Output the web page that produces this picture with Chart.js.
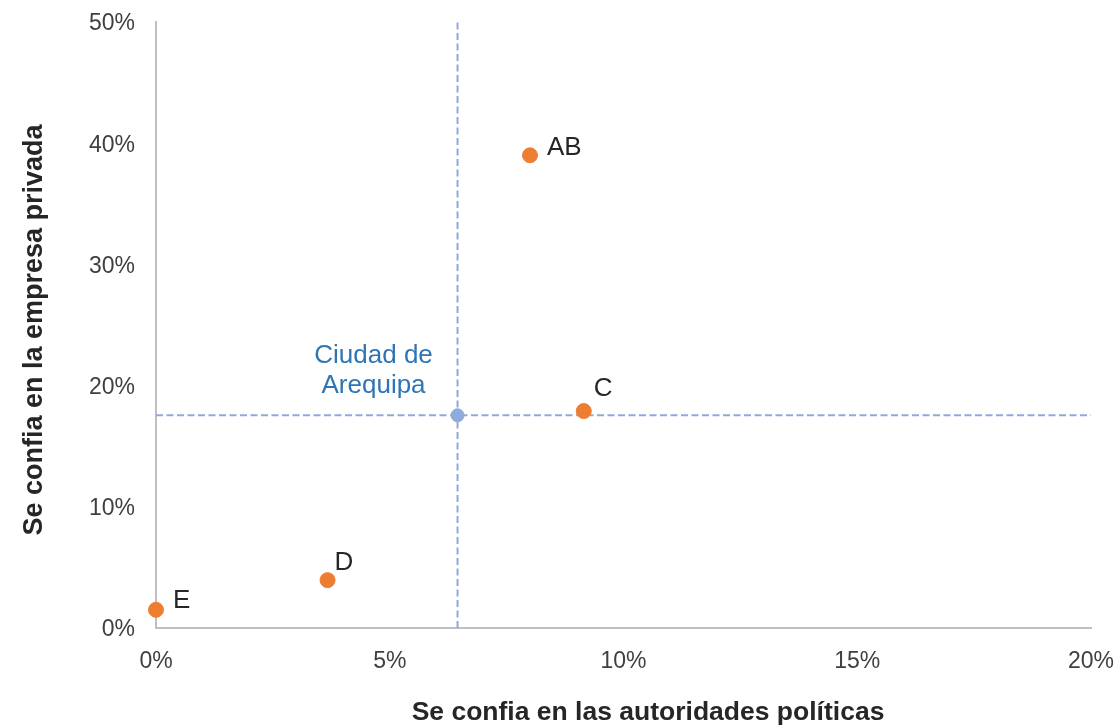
<!DOCTYPE html>
<html>
<head>
<meta charset="utf-8">
<script src="https://cdn.jsdelivr.net/npm/chart.js@4.4.1/dist/chart.umd.min.js"></script>
<style>
  html, body { margin: 0; padding: 0; background: #ffffff; }
  #wrap { width: 1116px; height: 725px; position: relative; }
</style>
</head>
<body>
<div id="wrap"><canvas id="chart"></canvas></div>
<script>
// ======================================
// Data
// ======================================

const segments = ["AB", "C", "D", "E"];

const trustAuthorities = [8.0, 9.15, 3.67, 0.0];

const trustPrivate = [39.0, 17.9, 3.95, 1.5];

const cityName = ["Ciudad de", "Arequipa"];

const cityAuthorities = 6.45;

const cityPrivate = 17.55;

const xTicks = [0, 5, 10, 15, 20];

const yTicks = [0, 10, 20, 30, 40, 50];

const xTitle = "Se confia en las autoridades políticas";

const yTitle = "Se confia en la empresa privada";

// ======================================
// Label placement (pixels from point)
// ======================================

const labelOffsets = {
    AB: [17, -7],
    C: [10, -22],
    D: [7, -17],
    E: [17, -9]
};

const FONT = "'Liberation Sans', Arial, sans-serif";

// ======================================
// Plugins
// ======================================

const labelsPlugin = {
    id: "pointLabels",
    afterDatasetsDraw(chart) {
        const ctx = chart.ctx;
        const xs = chart.scales.x;
        const ys = chart.scales.y;

        ctx.save();
        ctx.font = "26px " + FONT;
        ctx.fillStyle = "#262626";
        ctx.textAlign = "left";
        ctx.textBaseline = "middle";

        segments.forEach((name, i) => {
            const px = xs.getPixelForValue(trustAuthorities[i]);
            const py = ys.getPixelForValue(trustPrivate[i]);
            const off = labelOffsets[name];
            ctx.fillText(name, px + off[0], py + off[1]);
        });

        // city label
        const cx = xs.getPixelForValue(cityAuthorities);
        const cy = ys.getPixelForValue(cityPrivate);
        ctx.fillStyle = "#2e75b6";
        ctx.textAlign = "center";
        ctx.fillText(cityName[0], cx - 84, cy - 59);
        ctx.fillText(cityName[1], cx - 84, cy - 29);

        // axis titles
        ctx.fillStyle = "#262626";
        ctx.font = "bold 26.5px " + FONT;
        ctx.fillText(xTitle, 648, 713);

        ctx.font = "bold 27px " + FONT;
        ctx.translate(35, 330);
        ctx.rotate(-Math.PI / 2);
        ctx.fillText(yTitle, 0, 0);
        ctx.restore();
    }
};

// ======================================
// Chart
// ======================================

const pointData = trustAuthorities.map((x, i) => ({ x: x, y: trustPrivate[i] }));

new Chart(document.getElementById("chart"), {
    type: "scatter",
    data: {
        datasets: [
            {
                label: "Ciudad vertical",
                data: [{ x: cityAuthorities, y: 0 }, { x: cityAuthorities, y: 50 }],
                showLine: true,
                borderColor: "#8eaadb",
                borderWidth: 2,
                borderDash: [7, 3.5],
                pointRadius: 0,
                order: 3
            },
            {
                label: "Ciudad horizontal",
                data: [{ x: 0, y: cityPrivate }, { x: 20, y: cityPrivate }],
                showLine: true,
                borderColor: "#8eaadb",
                borderWidth: 2,
                borderDash: [7, 3.5],
                pointRadius: 0,
                order: 3
            },
            {
                label: "Ciudad de Arequipa",
                data: [{ x: cityAuthorities, y: cityPrivate }],
                backgroundColor: "#8faadc",
                borderColor: "#8faadc",
                pointRadius: 6.5,
                order: 2
            },
            {
                label: "Segmentos",
                data: pointData,
                backgroundColor: "#ed7d31",
                borderColor: "#ed7d31",
                pointRadius: 7.5,
                clip: false,
                order: 1
            }
        ]
    },
    options: {
        responsive: true,
        maintainAspectRatio: false,
        animation: false,
        events: [],
        layout: { padding: { left: 0, right: 25, top: 22, bottom: 0 } },
        plugins: {
            legend: { display: false },
            tooltip: { enabled: false }
        },
        scales: {
            x: {
                type: "linear",
                min: 0,
                max: 20,
                afterBuildTicks(scale) {
                    scale.ticks = xTicks.map(v => ({ value: v }));
                },
                afterFit(scale) {
                    scale.height = 97;
                    scale.paddingLeft = 0;
                    scale.paddingRight = 0;
                },
                grid: { display: false, drawTicks: false },
                border: { color: "#bfbfbf", width: 2 },
                ticks: {
                    padding: 20,
                    color: "#404040",
                    font: { family: FONT, size: 23 },
                    callback: v => v + "%"
                }
            },
            y: {
                type: "linear",
                min: 0,
                max: 50,
                afterBuildTicks(scale) {
                    scale.ticks = yTicks.map(v => ({ value: v }));
                },
                afterFit(scale) {
                    scale.width = 156;
                    scale.paddingTop = 0;
                    scale.paddingBottom = 0;
                },
                grid: { display: false, drawTicks: false },
                border: { color: "#bfbfbf", width: 2 },
                ticks: {
                    padding: 21,
                    labelOffset: 2,
                    color: "#404040",
                    font: { family: FONT, size: 23 },
                    callback: v => v + "%"
                }
            }
        }
    },
    plugins: [labelsPlugin]
});
</script>
</body>
</html>
